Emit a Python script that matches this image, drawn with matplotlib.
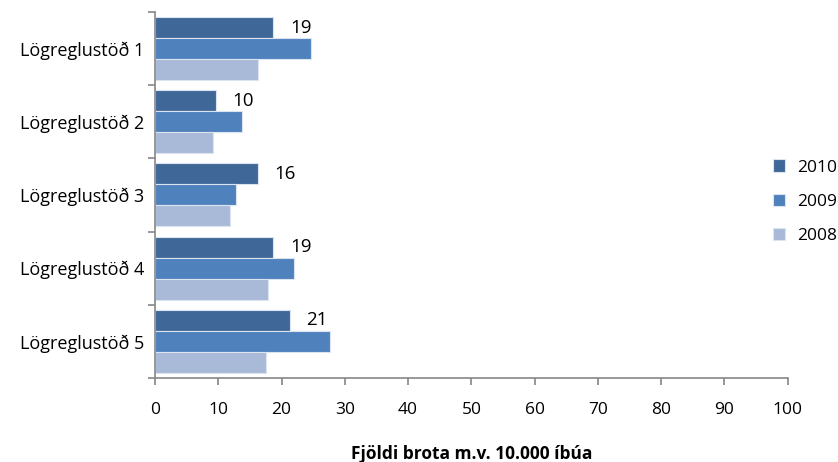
import numpy as np
import matplotlib.pyplot as plt

# data
stations = ["Lögreglustöð 1", "Lögreglustöð 2", "Lögreglustöð 3",
            "Lögreglustöð 4", "Lögreglustöð 5"]
v2010 = [18.7, 9.6, 16.2, 18.7, 21.3]
v2009 = [24.7, 13.7, 12.8, 21.9, 27.6]
v2008 = [16.2, 9.2, 11.8, 17.8, 17.5]

series = [("2010", v2010, "#3F6899"), ("2009", v2009, "#4F81BD"), ("2008", v2008, "#A9BAD8")]

plt.rcParams['font.family'] = ['Open Sans', 'DejaVu Sans']

fig = plt.figure(figsize=(8.38, 4.62), dpi=100)
ax = fig.add_axes([0.185, 0.182, 0.755, 0.792])

y = np.arange(len(stations))
h = 0.287
offsets = [-h, 0, h]

for (name, vals, col), off in zip(series, offsets):
    ax.barh(y + off, vals, height=h, color=col, edgecolor="#DCE4F0",
            linewidth=0.8, label=name)

# data labels on 2010 series
for yi, v in zip(y, v2010):
    ax.annotate(f"{round(v)}", xy=(v, yi - h), xytext=(12, 0), textcoords="offset points",
                ha="left", va="center", fontsize=13.5)

ax.set_xlim(0, 100)
ax.set_ylim(len(stations) - 0.5, -0.5)
ax.set_xticks(np.arange(0, 101, 10))
ax.set_yticks(y)
ax.set_yticklabels(stations, fontsize=13)
ax.set_yticks(np.arange(-0.5, len(stations), 1), minor=True)
ax.tick_params(axis='y', which='major', length=0, pad=8)
ax.tick_params(axis='y', which='minor', length=5, color="#868686", width=1.2)
ax.tick_params(axis='x', length=5, color="#868686", width=1.2, labelsize=12.5, pad=12)

for s in ["top", "right"]:
    ax.spines[s].set_visible(False)
for s in ["left", "bottom"]:
    ax.spines[s].set_color("#868686")
    ax.spines[s].set_linewidth(1.2)

ax.set_xlabel("Fjöldi brota m.v. 10.000 íbúa", fontsize=12.5, fontweight="bold", labelpad=20)

fig.legend(loc="center left", bbox_to_anchor=(0.922, 0.563), frameon=False, fontsize=12.5,
           handlelength=0.7, handleheight=0.7, labelspacing=1.05, handletextpad=0.7,
           borderpad=0, borderaxespad=0)

fig.savefig("out.png", dpi=100)
